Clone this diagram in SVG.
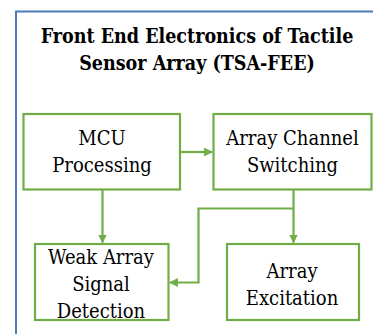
<svg xmlns="http://www.w3.org/2000/svg" width="373" height="334" viewBox="0 0 373 334">
  <style>
    .frame { fill: none; stroke: #4a7db5; stroke-width: 2; }
    .box { fill: #ffffff; stroke: #70ad47; stroke-width: 2.2; }
    .wire { fill: none; stroke: #70ad47; stroke-width: 2.2; }
    text { font-family: "DejaVu Serif", "Liberation Serif", "Times New Roman", serif; font-stretch: condensed; fill: #000; text-anchor: middle; }
    .title { font-weight: bold; font-size: 19.5px; }
    .label { font-size: 20px; }
  </style>
  <defs>
    <marker id="arrow" viewBox="0 0 10 10" refX="9" refY="5" markerWidth="4" markerHeight="4" orient="auto" markerUnits="strokeWidth">
      <path d="M0,0 L10,5 L0,10 Z" fill="#70ad47"/>
    </marker>
  </defs>
  <rect width="373" height="334" fill="#ffffff"/>

  <!-- outer frame (open at right and bottom) -->
  <path class="frame" d="M16,334 L16,11.5 L373,11.5"/>

  <!-- heading -->
  <g id="title">
    <text class="title" x="197" y="43">Front End Electronics of Tactile</text>
    <text class="title" x="197" y="69.5">Sensor Array (TSA-FEE)</text>
  </g>

  <!-- connectors -->
  <g id="connectors">
    <line class="wire" x1="180" y1="152" x2="212" y2="152" marker-end="url(#arrow)"/>
    <line class="wire" x1="102.5" y1="189.5" x2="102.5" y2="242.5" marker-end="url(#arrow)"/>
    <line class="wire" x1="293.5" y1="189.5" x2="293.5" y2="242.5" marker-end="url(#arrow)"/>
    <polyline class="wire" points="293.5,208.5 198.5,208.5 198.5,282.5 170,282.5" marker-end="url(#arrow)"/>
  </g>

  <g id="mcu">
    <rect class="box" x="23.5" y="114" width="156.5" height="75.5"/>
    <text class="label" x="102" y="145">MCU</text>
    <text class="label" x="102" y="172">Processing</text>
  </g>

  <g id="switching">
    <rect class="box" x="213.5" y="114" width="158" height="75.5"/>
    <text class="label" x="292.5" y="145">Array Channel</text>
    <text class="label" x="292.5" y="172">Switching</text>
  </g>

  <g id="detection">
    <rect class="box" x="35" y="244" width="133.5" height="76"/>
    <text class="label" x="101" y="263.5">Weak Array</text>
    <text class="label" x="101" y="290.5">Signal</text>
    <text class="label" x="101" y="318">Detection</text>
  </g>

  <g id="excitation">
    <rect class="box" x="227" y="244" width="132" height="76"/>
    <text class="label" x="292" y="278">Array</text>
    <text class="label" x="292" y="304.5">Excitation</text>
  </g>
</svg>
